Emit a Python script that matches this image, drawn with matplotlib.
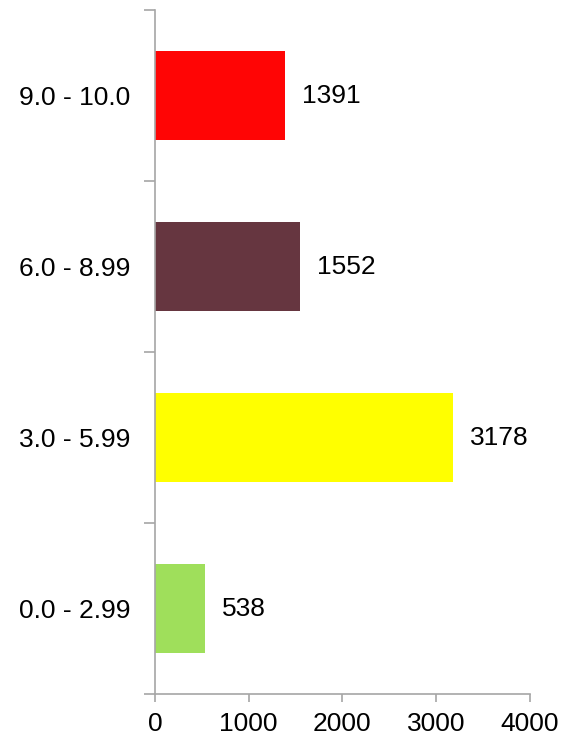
import matplotlib.pyplot as plt

# Datos del gráfico
categorias = ['0.0 - 2.99', '3.0 - 5.99', '6.0 - 8.99', '9.0 - 10.0']
valores = [538, 3178, 1552, 1391]
colores = ['#9FDF5B', '#FFFF00', '#663640', '#FF0505']
ticks_x = [0, 1000, 2000, 3000, 4000]

plt.rcParams['font.family'] = ['Liberation Sans', 'DejaVu Sans']

fig = plt.figure(figsize=(5.76, 7.40), dpi=100)
ax = fig.add_axes([0.269, 0.062, 0.651, 0.9245])

pos = list(range(len(categorias)))
barras = ax.barh(pos, valores, height=0.52, color=colores)

# Etiquetas de valor a la derecha de cada barra
for b, v in zip(barras, valores):
    ax.annotate(str(v), (b.get_width(), b.get_y() + b.get_height() / 2),
                xytext=(12, 0), textcoords='offset points',
                va='center', ha='left', fontsize=19)

ax.set_xlim(0, 4000)
ax.set_ylim(-0.5, len(categorias) - 0.5)
ax.set_xticks(ticks_x)
ax.set_xticklabels([str(t) for t in ticks_x], fontsize=19)

# Marcas del eje y entre categorías, etiquetas al centro
ax.set_yticks([p - 0.5 for p in pos] + [len(categorias) - 0.5])
ax.set_yticklabels([])
ax.set_yticks(pos, minor=True)
ax.set_yticklabels(categorias, minor=True, fontsize=19)
ax.tick_params(axis='y', which='minor', length=0, pad=17.5)
ax.tick_params(axis='y', which='major', length=8, width=1.2, color='#A6A6A6')
ax.tick_params(axis='x', length=6, width=1.2, color='#A6A6A6', pad=7)

for s in ['top', 'right']:
    ax.spines[s].set_visible(False)
for s in ['left', 'bottom']:
    ax.spines[s].set_color('#A6A6A6')
    ax.spines[s].set_linewidth(1.2)

fig.savefig('out.png', dpi=100)
